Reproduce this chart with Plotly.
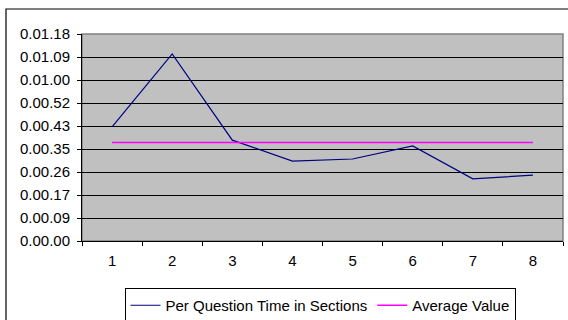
import plotly.graph_objects as go

categories = ["1", "2", "3", "4", "5", "6", "7", "8"]
# seconds per question
per_question = [43.0, 70.5, 38.0, 30.1, 30.9, 35.8, 23.4, 24.8]
average_value = [37.1] * 8
tick_seconds = [0, 78/9, 2*78/9, 3*78/9, 4*78/9, 5*78/9, 6*78/9, 7*78/9, 8*78/9, 78]
tick_labels = ["0.00.00", "0.00.09", "0.00.17", "0.00.26", "0.00.35",
               "0.00.43", "0.00.52", "0.01.00", "0.01.09", "0.01.18"]

W, H = 568, 320
L, R, T, B = 82, 5, 34, 79
pw, ph = W - L - R, H - T - B

def px_x(x):
    return (x - L) / pw

def px_y(y):
    return (H - B - y) / ph

font = dict(family="Liberation Sans, Arial, sans-serif", size=15, color="#000000")

fig = go.Figure()
fig.add_trace(go.Scatter(x=categories, y=per_question, mode="lines",
                         line=dict(color="#000080", width=1.2),
                         name="Per Question Time in Sections"))
fig.add_trace(go.Scatter(x=categories, y=average_value, mode="lines",
                         line=dict(color="#FF00FF", width=1.5),
                         name="Average Value"))

fig.update_layout(
    width=W, height=H,
    margin=dict(l=L, r=R, t=T, b=B, autoexpand=False),
    paper_bgcolor="#FFFFFF",
    plot_bgcolor="#C0C0C0",
    font=font,
    showlegend=True,
    legend=dict(orientation="h", x=px_x(320), xanchor="center",
                y=px_y(305.5), yanchor="middle",
                bordercolor="#000000", borderwidth=1, bgcolor="#FFFFFF",
                font=font, itemwidth=30, tracegroupgap=0),
    xaxis=dict(type="category", range=[-0.5, 7.5], showgrid=False,
               showline=True, linecolor="#000000", linewidth=1,
               ticks="outside", ticklen=4, tickcolor="#000000",
               tickson="boundaries", tickfont=font, zeroline=False,
               ticklabelstandoff=6,
               fixedrange=True, automargin=False),
    yaxis=dict(range=[0, 78], tickvals=tick_seconds, ticktext=tick_labels,
               showgrid=True, gridcolor="#000000", gridwidth=1,
               showline=True, linecolor="#000000", linewidth=1,
               ticks="outside", ticklen=4, tickcolor="#000000",
               ticklabelstandoff=4,
               tickfont=font, zeroline=False, fixedrange=True, automargin=False),
    shapes=[
        # plot area border
        dict(type="rect", xref="paper", yref="paper", x0=0, x1=1, y0=0, y1=1,
             line=dict(color="#808080", width=1.5), layer="below"),
        # outer chart frame
        dict(type="rect", xref="paper", yref="paper",
             x0=px_x(6), x1=px_x(570), y0=px_y(322), y1=px_y(9),
             line=dict(color="#000000", width=1.2)),
    ],
)

fig.write_html("out.html", config={"displayModeBar": False},
               post_script="document.body.style.margin='0';document.body.style.overflow='hidden';")
